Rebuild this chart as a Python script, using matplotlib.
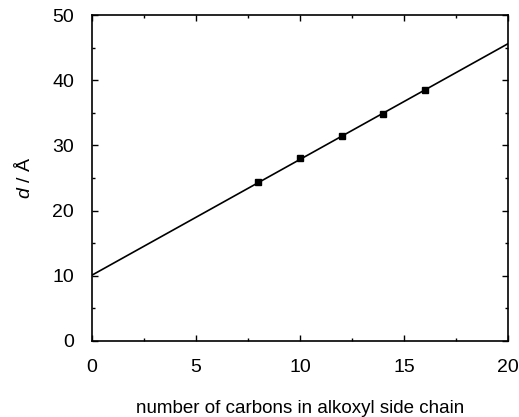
"""
Layer spacing d versus alkoxyl side chain length.
Run: python plot.py
"""
import matplotlib
matplotlib.use('Agg')
import matplotlib.pyplot as plt
from matplotlib.ticker import MultipleLocator

# Measured points
n_carbons = [8, 10, 12, 14, 16]
d_spacing = [24.4, 28.0, 31.5, 34.8, 38.5]

# Linear fit drawn across the whole axis
fit_x = [0, 20]
fit_y = [10.1, 45.6]

x_ticks = [0, 5, 10, 15, 20]
y_ticks = [0, 10, 20, 30, 40, 50]


def main():
    plt.rcParams['font.family'] = ['Liberation Sans', 'DejaVu Sans']
    plt.rcParams['mathtext.fontset'] = 'custom'
    plt.rcParams['mathtext.it'] = 'Liberation Sans:italic'
    plt.rcParams['mathtext.rm'] = 'Liberation Sans'

    fig = plt.figure(figsize=(5.19, 4.17), dpi=100)
    ax = fig.add_axes([0.1773, 0.1823, 0.8015, 0.7817])

    ax.plot(fit_x, fit_y, color='black', linewidth=1.2)
    ax.plot(n_carbons, d_spacing, linestyle='none', marker='s',
            markersize=5, color='black')

    ax.set_xlim(0, 20)
    ax.set_ylim(0, 50)
    ax.set_xticks(x_ticks)
    ax.set_yticks(y_ticks)
    ax.xaxis.set_minor_locator(MultipleLocator(2.5))
    ax.yaxis.set_minor_locator(MultipleLocator(5))
    ax.tick_params(which='both', direction='in', top=True, right=True,
                   width=1.0)
    ax.tick_params(which='major', length=4, labelsize=14, pad=13)
    ax.tick_params(which='minor', length=2.5)
    for s in ax.spines.values():
        s.set_linewidth(1.2)

    ax.set_xlabel('number of carbons in alkoxyl side chain', fontsize=13.5,
                  labelpad=17)
    ax.set_ylabel('$d$ / Å', fontsize=14, labelpad=13)

    fig.savefig('out.png', dpi=100)
    plt.close(fig)


if __name__ == '__main__':
    main()
